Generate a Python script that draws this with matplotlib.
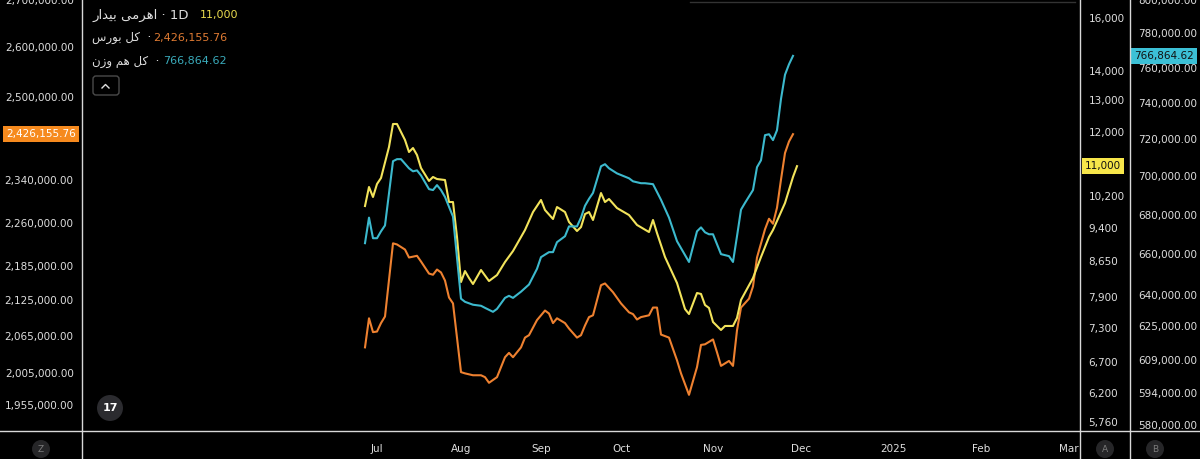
import matplotlib.pyplot as plt
from matplotlib.ticker import FixedLocator, NullLocator, FuncFormatter
from matplotlib.lines import Line2D
from matplotlib.patches import Circle, FancyBboxPatch

plt.rcParams['font.family'] = ['DejaVu Sans']

# bar index = trading day counted from the first bar shown
orange_bar = [0, 1, 2, 3, 4, 5, 7, 8, 10, 11, 13, 14, 16, 17, 18, 19, 20, 21, 22, 24,
              25, 27, 29, 30, 31, 33, 35, 36, 37, 39, 40, 41, 43, 45, 46, 47, 48, 50, 51, 53,
              54, 55, 56, 57, 59, 60, 62, 64, 66, 67, 68, 69, 71, 72, 73, 74, 76, 78, 79, 81,
              83, 84, 85, 87, 88, 89, 91, 92, 93, 94, 96, 97, 98, 100, 101, 102, 103, 104, 105,
              106, 107]
orange_val = [2047000, 2095000, 2072000, 2073000, 2087000, 2098000, 2224000, 2222000,
              2213000, 2199000, 2202000, 2192000, 2171000, 2169000, 2178000, 2173000,
              2159000, 2130000, 2120000, 2007000, 2005000, 2002000, 2002000, 1999000,
              1990000, 1999000, 2031000, 2038000, 2031000, 2047000, 2063000, 2067000,
              2092000, 2108000, 2103000, 2087000, 2095000, 2087000, 2078000, 2063000,
              2067000, 2083000, 2097000, 2100000, 2151000, 2154000, 2139000, 2120000,
              2105000, 2102000, 2093000, 2097000, 2100000, 2113000, 2113000, 2068000,
              2063000, 2026000, 2005000, 1971000, 2015000, 2051000, 2052000, 2060000,
              2039000, 2017000, 2025000, 2017000, 2075000, 2113000, 2128000, 2149000,
              2199000, 2249000, 2268000, 2259000, 2288000, 2340000, 2390000, 2412000,
              2426155.76]

yellow_bar = [0, 1, 2, 3, 4, 6, 7, 8, 10, 11, 12, 13, 14, 16, 17, 18, 20, 21, 22, 23,
              24, 25, 26, 27, 29, 31, 33, 35, 37, 39, 40, 42, 44, 45, 47, 48, 50, 51, 53, 54,
              55, 56, 57, 59, 60, 61, 63, 66, 68, 71, 72, 73, 75, 78, 80, 81, 83, 84, 85, 86,
              87, 89, 90, 92, 93, 94, 97, 99, 101, 102, 105, 107, 108]
yellow_val = [9945, 10435, 10175, 10515, 10675, 11546, 12238, 12238, 11752, 11401, 11517,
              11314, 10949, 10596, 10703, 10648, 10621, 10046, 10046, 9195, 8206, 8437,
              8290, 8165, 8459, 8227, 8352, 8632, 8875, 9195, 9360, 9795, 10098, 9845,
              9624, 9920, 9795, 9552, 9336, 9430, 9745, 9795, 9600, 10277, 10046, 10123,
              9894, 9721, 9480, 9312, 9600, 9288, 8742, 8186, 7664, 7568, 7981, 7962,
              7743, 7685, 7417, 7269, 7343, 7343, 7493, 7842, 8290, 8742, 9195, 9360,
              10021, 10703, 11000]

cyan_bar = [0, 1, 2, 3, 4, 5, 7, 8, 9, 11, 12, 13, 14, 16, 17, 18, 19, 20, 22, 24,
            25, 27, 29, 30, 32, 33, 35, 36, 37, 39, 41, 43, 44, 46, 47, 48, 50, 51, 53, 54,
            55, 56, 57, 59, 60, 61, 63, 66, 67, 69, 70, 72, 74, 76, 78, 81, 83, 84, 85, 86,
            87, 89, 91, 92, 93, 94, 95, 97, 98, 99, 100, 101, 102, 103, 104, 105, 106, 107]
cyan_val = [665500, 678500, 668000, 668000, 671500, 674500, 708100, 709200, 709200,
            704300, 702700, 703200, 700500, 693300, 692800, 695400, 692800, 689200,
            679000, 638100, 636600, 635200, 634700, 633700, 631800, 633200, 638500,
            639500, 638500, 641500, 645000, 652700, 658500, 661000, 661000, 666000,
            669000, 674000, 674000, 678500, 684600, 688200, 691300, 705400, 706500,
            704300, 701600, 699000, 697400, 696400, 696400, 695900, 687700, 678500,
            666500, 656100, 671500, 673500, 671000, 670000, 670000, 660000, 659000,
            656100, 669000, 682600, 686100, 692800, 704900, 708600, 722200, 722700,
            719500, 724900, 742300, 756000, 762000, 766864.62]

orange_ticks = [2700000, 2600000, 2500000, 2340000, 2260000, 2185000, 2125000,
                2065000, 2005000, 1955000]
yellow_ticks = [16000, 14000, 13000, 12000, 10200, 9400, 8650, 7900, 7300, 6700,
                6200, 5760]
cyan_ticks = [800000, 780000, 760000, 740000, 720000, 700000, 680000, 660000, 640000,
              625000, 609000, 594000, 580000]

month_bars = [3, 24, 44, 64, 87, 109, 132, 154, 176]
month_labels = ['Jul', 'Aug', 'Sep', 'Oct', 'Nov', 'Dec', '2025', 'Feb', 'Mar']

# Persian names, written in visual order with presentation forms
# (matplotlib does no right-to-left shaping)
name_fund = '\uFEAD\uFE8D\uFEAA\uFBFF\uFE91 \uFBFD\uFEE3\uFEAE\uFEEB\uFE8D'  # اهرمی بیدار
name_total = '\uFEB1\uFEAD\uFEEE\uFE91 \uFEDE\uFB90'  # کل بورس
name_equal = '\uFEE5\uFEAF\uFEED \uFEE2\uFEEB \uFEDE\uFB90'  # کل هم وزن

ORANGE = '#ee8130'
YELLOW = '#f2e35b'
CYAN = '#3cb9cd'
TXT = '#dedede'
SEP = '#d8d8d8'

W, H = 1200, 459
fig = plt.figure(figsize=(W / 100, H / 100), dpi=100, facecolor='black')
ax = fig.add_axes([82 / W, 28 / H, 998 / W, 431 / H])
ax.set_facecolor('black')
ax2 = ax.twinx()
ax3 = ax.twinx()

ax.plot(orange_bar, orange_val, color=ORANGE, lw=1.5)
ax2.plot(yellow_bar, yellow_val, color=YELLOW, lw=1.5)
ax3.plot(cyan_bar, cyan_val, color=CYAN, lw=1.5)

ax.set_xlim(-70.75, 178.75)
ax.set_xticks(month_bars)
ax.set_xticklabels(month_labels)
ax.tick_params(axis='x', length=0, pad=9, labelsize=7.5, labelcolor=TXT)

ax3.spines['right'].set_position(('axes', 1048 / 998))

for a, lims, ticks, fmt, pad in [
        (ax, (1915000, 2700000), orange_ticks, '{:,.2f}', 6),
        (ax2, (5630, 16745), yellow_ticks, '{:,.0f}', 6),
        (ax3, (577300, 800000), cyan_ticks, '{:,.2f}', 6)]:
    a.set_yscale('log')
    a.set_ylim(*lims)
    a.yaxis.set_major_locator(FixedLocator(ticks))
    a.yaxis.set_minor_locator(NullLocator())
    a.yaxis.set_major_formatter(FuncFormatter(lambda v, p, f=fmt: f.format(v)))
    a.tick_params(axis='y', which='both', length=0, pad=pad, labelsize=7.5,
                  labelcolor=TXT)
    for s in a.spines.values():
        s.set_visible(False)

# last-value labels on the scales
box = dict(boxstyle='square,pad=0.3', ec='none')
ax.annotate(f'{orange_val[-1]:,.2f}', xy=(0, orange_val[-1]),
            xycoords=('axes fraction', 'data'), xytext=(-6, 0),
            textcoords='offset pixels', ha='right', va='center', fontsize=7.5,
            color='white', bbox=dict(box, fc='#f68a1e'), annotation_clip=False)
ax2.annotate(f'{yellow_val[-1]:,.0f}', xy=(1, yellow_val[-1]),
             xycoords=('axes fraction', 'data'), xytext=(5, 0),
             textcoords='offset pixels', ha='left', va='center', fontsize=7.5,
             color='#111111', bbox=dict(box, fc='#f7e64a'), annotation_clip=False)
ax3.annotate(f'{cyan_val[-1]:,.2f}', xy=(1048 / 998, cyan_val[-1]),
             xycoords=('axes fraction', 'data'), xytext=(4, 0),
             textcoords='offset pixels', ha='left', va='center', fontsize=7.5,
             color='#111111', bbox=dict(box, fc='#3cc0d6'), annotation_clip=False,
             zorder=10)

# pane separators
for x in (82, 1080, 1130):
    fig.add_artist(Line2D([x / W, x / W], [0, 1], color=SEP, lw=1))
fig.add_artist(Line2D([0, 1], [28 / H, 28 / H], color=SEP, lw=1))
fig.add_artist(Line2D([690 / W, 1075 / W], [1 - 1.5 / H] * 2, color='#333333', lw=1))

# legend
fig.text(92 / W, 1 - 15 / H, name_fund + ' \u00b7 1D', fontsize=9.5, color=TXT,
         va='center')
fig.text(200 / W, 1 - 15 / H, f'{yellow_val[-1]:,.0f}', fontsize=8, color='#e8da4e',
         va='center')
fig.text(92 / W, 1 - 38 / H, name_total + '  \u00b7', fontsize=8.5, color=TXT,
         va='center')
fig.text(153 / W, 1 - 38 / H, f'{orange_val[-1]:,.2f}', fontsize=8, color='#e07b33',
         va='center')
fig.text(92 / W, 1 - 61 / H, name_equal + '  \u00b7', fontsize=8.5, color=TXT,
         va='center')
fig.text(163 / W, 1 - 61 / H, f'{cyan_val[-1]:,.2f}', fontsize=8, color='#3aabbb',
         va='center')

inch = fig.dpi_scale_trans
fig.add_artist(FancyBboxPatch((0.93, (H - 95) / 100), 0.26, 0.19,
                              boxstyle='round,pad=0,rounding_size=0.03',
                              fc='none', ec='#4a4a4a', lw=1, transform=inch))
fig.add_artist(Line2D([1.02, 1.055, 1.09], [(H - 88) / 100, (H - 84.5) / 100,
                                             (H - 88) / 100],
                      color=TXT, lw=1, transform=inch))

# logo and pane buttons
fig.add_artist(Circle((1.10, (H - 408) / 100), 0.13, fc='#2b2b2f', ec='none',
                      transform=inch))
fig.text(110 / W, 1 - 408 / H, '17', fontsize=8, fontweight='bold', color='white',
         ha='center', va='center')
for x, letter in [(41, 'Z'), (1105, 'A'), (1155, 'B')]:
    fig.add_artist(Circle((x / 100, (H - 449) / 100), 0.09, fc='#262628', ec='none',
                          transform=inch))
    fig.text(x / W, 1 - 449 / H, letter, fontsize=6.5, color='#7c7c7c', ha='center',
             va='center')

fig.savefig('out.png', dpi=100, facecolor='black')
